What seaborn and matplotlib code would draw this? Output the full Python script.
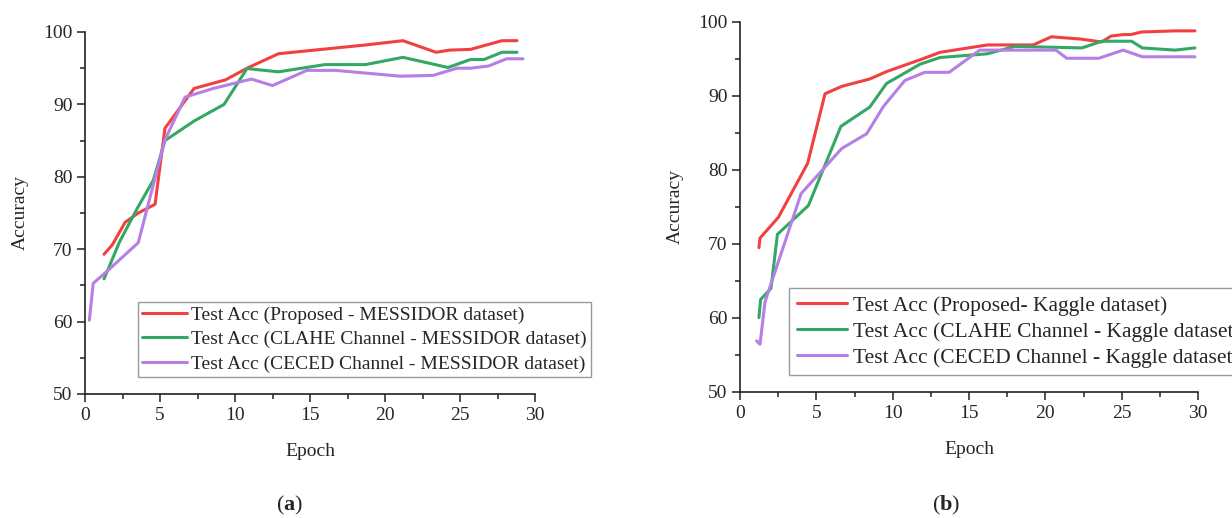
import numpy as np
import pandas as pd
import matplotlib
matplotlib.use("Agg")
import matplotlib.pyplot as plt
from matplotlib.ticker import MultipleLocator
import seaborn as sns

# ---- data ----
# (a) MESSIDOR
mes_prop_epoch = [1.27, 1.82, 2.67, 3.55, 4.67, 5.33, 7.27, 9.38, 10.8, 12.9, 18.67, 21.2, 23.4, 24.3, 25.7, 27.8, 28.8]
mes_prop_acc = [69.3, 70.6, 73.7, 75.0, 76.2, 86.7, 92.2, 93.4, 95.0, 97.0, 98.2, 98.8, 97.2, 97.5, 97.6, 98.8, 98.8]

mes_clahe_epoch = [1.27, 2.3, 3.5, 4.55, 5.33, 7.27, 9.27, 10.8, 12.9, 16.0, 18.7, 21.2, 24.2, 25.7, 26.6, 27.8, 28.8]
mes_clahe_acc = [65.9, 71.0, 75.7, 79.5, 85.0, 87.7, 90.0, 94.95, 94.5, 95.5, 95.5, 96.5, 95.1, 96.2, 96.2, 97.2, 97.2]

mes_ceced_epoch = [0.29, 0.55, 1.44, 3.55, 5.33, 6.67, 8.55, 11.1, 12.5, 14.8, 16.7, 21.0, 23.2, 24.8, 25.7, 26.9, 28.1, 29.2]
mes_ceced_acc = [60.2, 65.3, 66.9, 70.9, 85.1, 91.0, 92.2, 93.5, 92.6, 94.7, 94.7, 93.9, 94.0, 95.0, 95.0, 95.3, 96.3, 96.3]

# (b) Kaggle
kag_prop_epoch = [1.24, 1.31, 2.51, 4.43, 5.57, 6.66, 8.5, 9.6, 11.8, 13.1, 16.2, 19.2, 20.4, 22.3, 23.7, 24.3, 25.1, 25.6, 26.3, 28.5, 29.8]
kag_prop_acc = [69.5, 70.8, 73.6, 80.9, 90.3, 91.3, 92.3, 93.3, 94.9, 95.9, 96.9, 96.9, 98.0, 97.7, 97.3, 98.1, 98.3, 98.3, 98.65, 98.8, 98.8]

kag_clahe_epoch = [1.24, 1.35, 2.03, 2.45, 4.48, 6.61, 8.5, 9.6, 11.8, 13.1, 16.2, 18.0, 22.4, 23.7, 25.65, 26.35, 28.5, 29.8]
kag_clahe_acc = [60.05, 62.5, 64.0, 71.3, 75.2, 85.9, 88.5, 91.7, 94.3, 95.2, 95.7, 96.7, 96.5, 97.4, 97.4, 96.5, 96.2, 96.5]

kag_ceced_epoch = [1.09, 1.31, 1.64, 4.0, 6.66, 8.3, 9.4, 10.8, 12.1, 13.7, 15.7, 20.7, 21.4, 23.5, 25.1, 26.35, 29.8]
kag_ceced_acc = [56.9, 56.45, 62.2, 76.8, 82.9, 84.9, 88.6, 92.1, 93.2, 93.2, 96.2, 96.2, 95.1, 95.1, 96.2, 95.3, 95.3]

mes_labels = ["Test Acc (Proposed - MESSIDOR dataset)",
              "Test Acc (CLAHE Channel - MESSIDOR dataset)",
              "Test Acc (CECED Channel - MESSIDOR dataset)"]
kag_labels = ["Test Acc (Proposed- Kaggle dataset)",
              "Test Acc (CLAHE Channel - Kaggle dataset)",
              "Test Acc (CECED Channel - Kaggle dataset)"]
colors = ["#F24040", "#33A865", "#B57FE6"]

sns.set_style("ticks")
plt.rcParams["font.family"] = ["Liberation Serif", "DejaVu Serif"]
plt.rcParams["mathtext.fontset"] = "custom"
plt.rcParams["mathtext.bf"] = "Liberation Serif:bold"


def to_long(series, labels):
    frames = []
    for (ep, acc), lab in zip(series, labels):
        frames.append(pd.DataFrame({"Epoch": ep, "Accuracy": acc, "run": lab}))
    return pd.concat(frames, ignore_index=True)


df_a = to_long([(mes_prop_epoch, mes_prop_acc), (mes_clahe_epoch, mes_clahe_acc),
                (mes_ceced_epoch, mes_ceced_acc)], mes_labels)
df_b = to_long([(kag_prop_epoch, kag_prop_acc), (kag_clahe_epoch, kag_clahe_acc),
                (kag_ceced_epoch, kag_ceced_acc)], kag_labels)

fig = plt.figure(figsize=(12.32, 5.18), dpi=100)
ax_a = fig.add_axes([85 / 1232, 1 - 394 / 518, 450 / 1232, 362 / 518])
ax_b = fig.add_axes([740 / 1232, 1 - 392 / 518, 458 / 1232, 370 / 518])

# legend settings per panel: anchor, font size, spacing, handle length, border pad
panels = [(ax_a, df_a, mes_labels, (138 / 1232, 1 - 302 / 518), 14, 0.36, 2.3, 0.2),
          (ax_b, df_b, kag_labels, (789 / 1232, 1 - 288 / 518), 15.5, 0.27, 2.35, 0.36)]

for ax, df, labels, anchor, lfs, lsp, hl, bp in panels:
    sns.lineplot(data=df, x="Epoch", y="Accuracy", hue="run", hue_order=labels,
                 palette=colors, estimator=None, sort=False, linewidth=2.2, ax=ax)
    ax.set_xlim(0, 30)
    ax.set_ylim(50, 100)
    ax.xaxis.set_major_locator(MultipleLocator(5))
    ax.xaxis.set_minor_locator(MultipleLocator(2.5))
    ax.yaxis.set_major_locator(MultipleLocator(10))
    ax.yaxis.set_minor_locator(MultipleLocator(5))
    ax.tick_params(which="major", length=6, width=1.1, labelsize=14, pad=3, color="#222222")
    ax.tick_params(which="minor", length=3.5, width=1.1, color="#222222")
    for side in ["top", "right"]:
        ax.spines[side].set_visible(False)
    for side in ["left", "bottom"]:
        ax.spines[side].set_linewidth(1.2)
        ax.spines[side].set_color("#222222")
    ax.set_xlabel("Epoch", fontsize=14, labelpad=14)
    ax.set_ylabel("Accuracy", fontsize=14, labelpad=10)
    ax.legend_.remove()
    handles, lbls = ax.get_legend_handles_labels()
    leg = fig.legend(handles, lbls, loc="upper left", bbox_to_anchor=anchor,
                     bbox_transform=fig.transFigure, fontsize=lfs, frameon=True,
                     fancybox=False, edgecolor="#999999", framealpha=1,
                     borderpad=bp, labelspacing=lsp, handlelength=hl,
                     handletextpad=0.25, borderaxespad=0)
    leg.get_frame().set_linewidth(1.0)

fig.text(290 / 1232, 1 - 505 / 518, r"($\mathbf{a}$)", ha="center", va="center", fontsize=16)
fig.text(946 / 1232, 1 - 505 / 518, r"($\mathbf{b}$)", ha="center", va="center", fontsize=16)

fig.savefig("out.png", dpi=100, facecolor="white")
